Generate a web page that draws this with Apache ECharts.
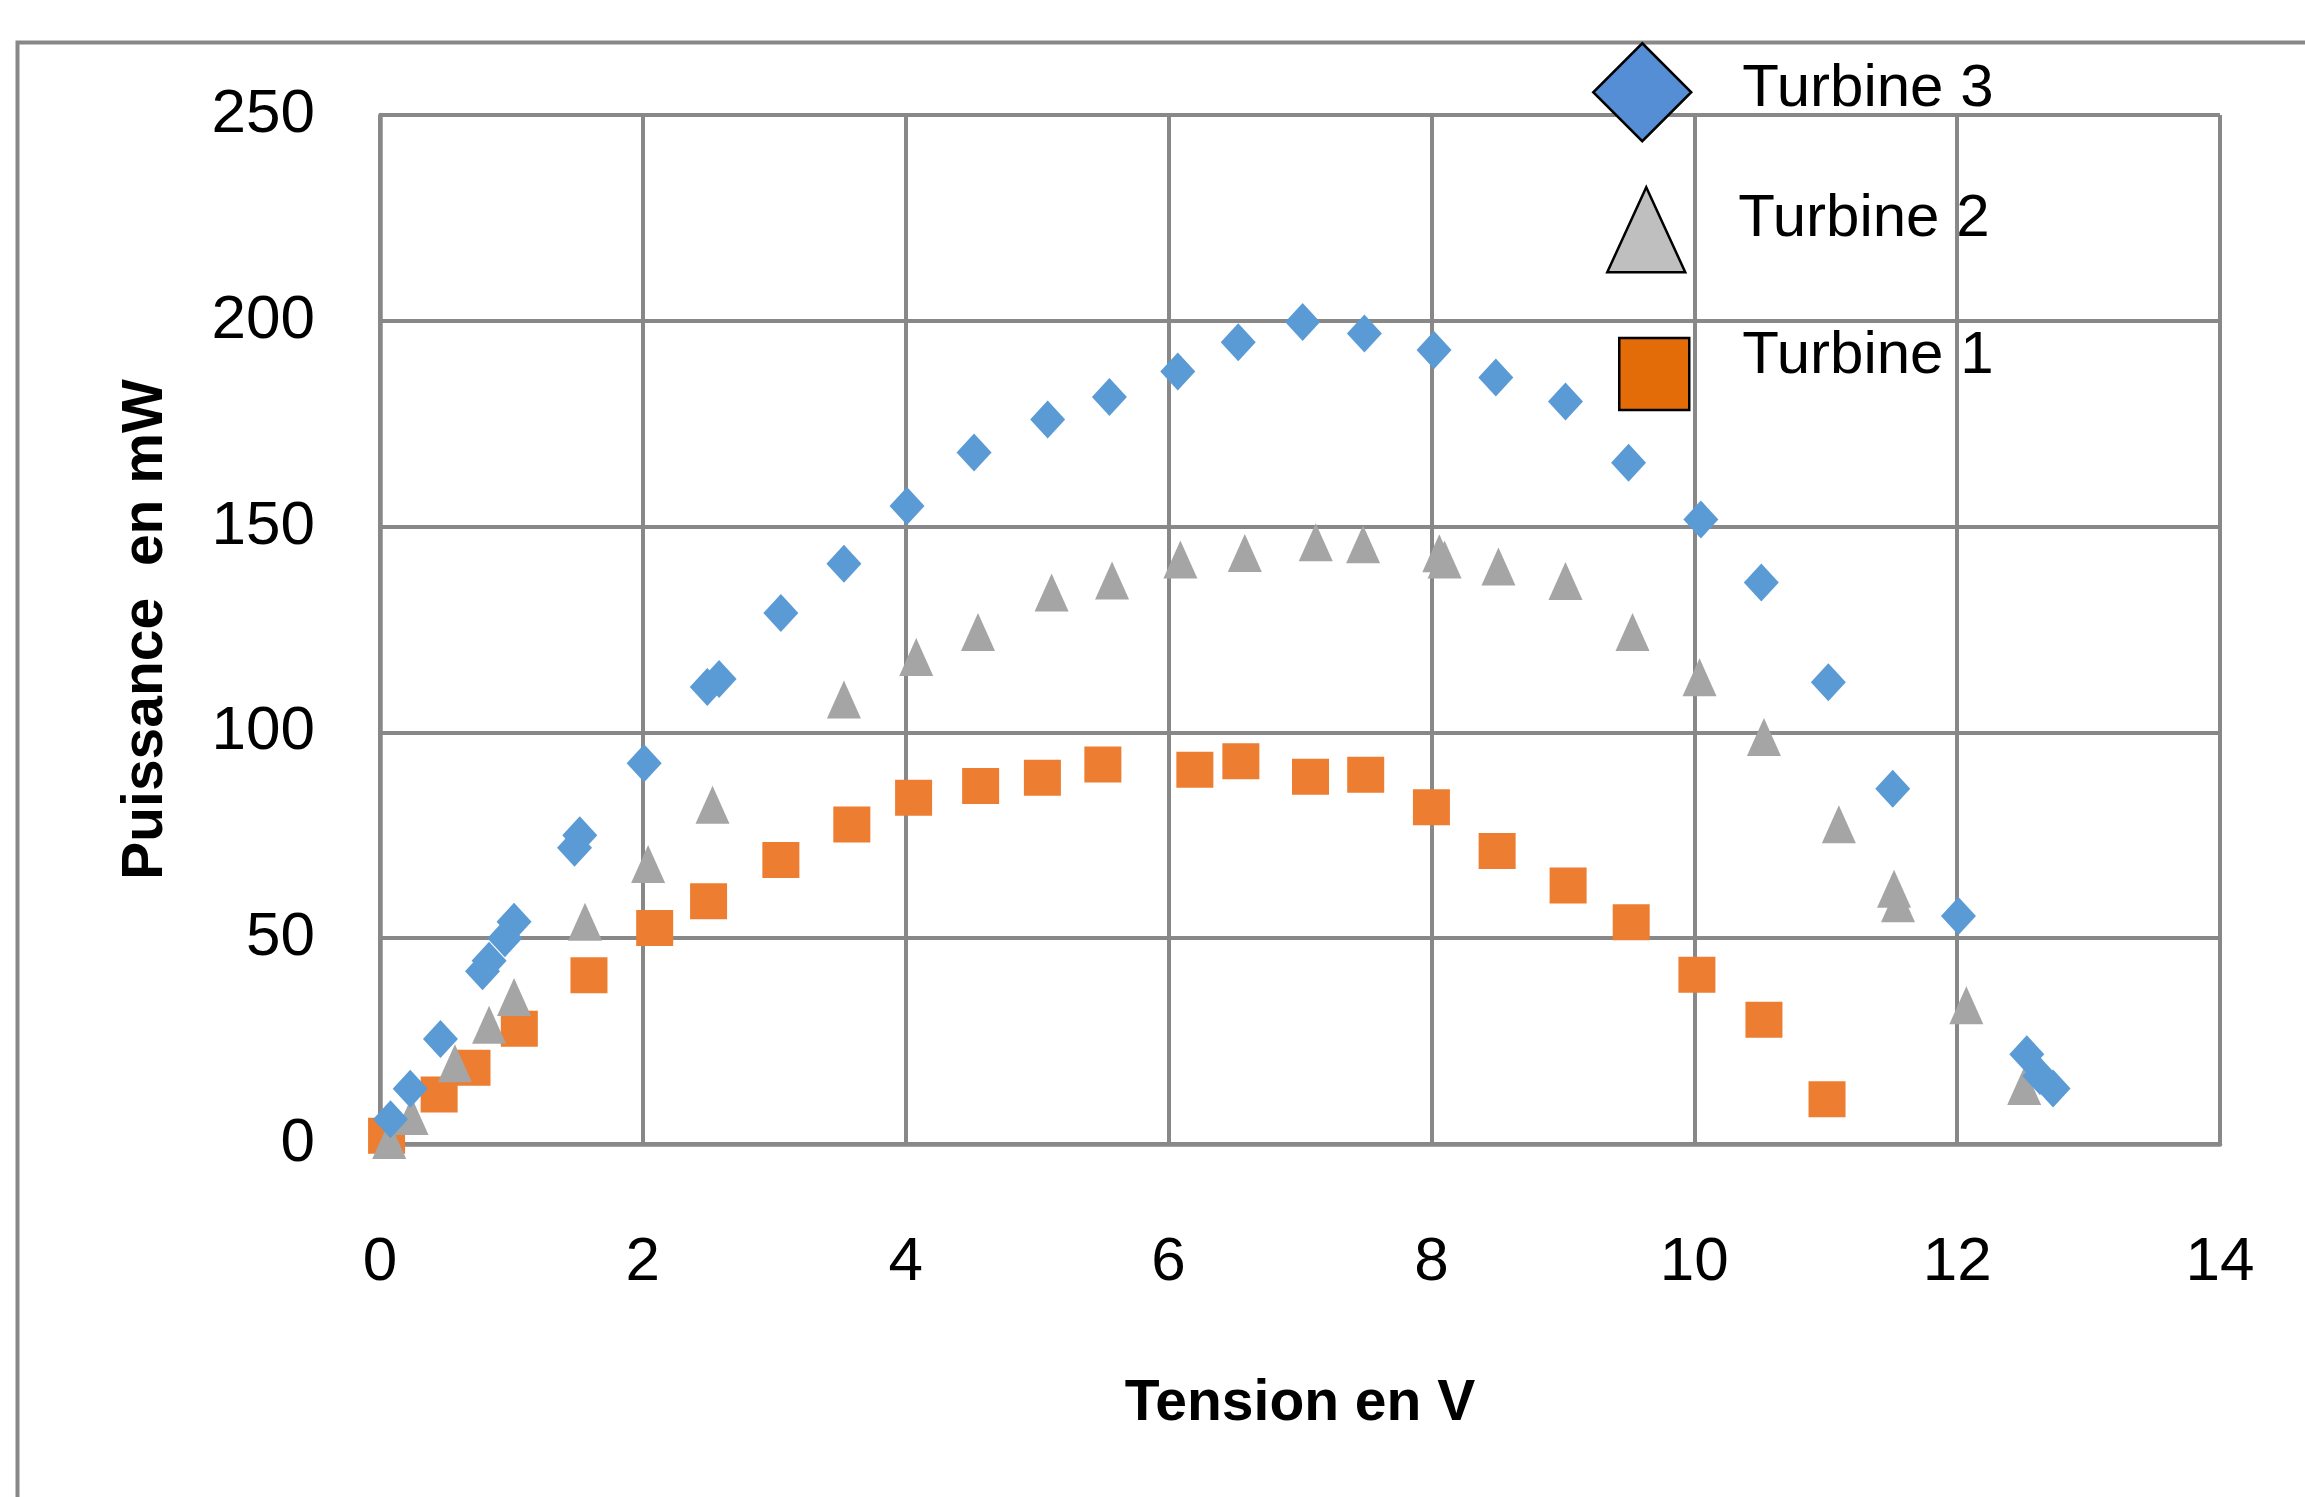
<!DOCTYPE html>
<html><head><meta charset="utf-8">
<script src="https://cdn.jsdelivr.net/npm/echarts@6/dist/echarts.min.js"></script>
<style>html,body{margin:0;padding:0;background:#fff}#c{width:2305px;height:1497px}</style>
</head><body><div id="c"></div>
<script>
// ---- data ----
const seriesNames = ['Turbine 1', 'Turbine 2', 'Turbine 3'];
const turbine1 = [[0.05,2],[0.45,12],[0.7,18.5],[1.06,28],[1.59,41],[2.09,52.5],[2.5,59],[3.05,69],[3.59,77.6],[4.06,84.1],[4.57,87],[5.04,89],[5.5,92.2],[6.2,90.9],[6.55,93],[7.08,89.2],[7.5,89.7],[8.0,81.8],[8.5,71.2],[9.04,62.8],[9.52,53.9],[10.02,41.1],[10.53,30.2],[11.01,10.9]];
const turbine2 = [[0.07,1],[0.24,6.8],[0.57,19.6],[0.83,29],[1.02,35.7],[1.56,54],[2.04,68],[2.53,82.4],[3.53,108],[4.08,118.3],[4.55,124.4],[5.11,134],[5.57,136.9],[6.09,142],[6.58,143.6],[7.12,146.2],[7.48,145.7],[8.06,143.5],[8.1,142],[8.51,140.3],[9.02,136.8],[9.53,124.4],[10.04,113.4],[10.53,98.9],[11.1,77.7],[11.52,62],[11.55,58.5],[12.07,33.7],[12.51,14.1]];
const turbine3 = [[0.08,6],[0.23,13.4],[0.46,25.5],[0.78,42],[0.83,44.5],[0.95,50],[1.02,54],[1.48,72],[1.52,75],[2.01,92.5],[2.49,111],[2.58,113],[3.05,129],[3.53,141],[4.01,155],[4.52,168],[5.08,176],[5.55,181.5],[6.07,187.7],[6.53,194.8],[7.02,199.7],[7.49,196.9],[8.02,192.9],[8.49,186.2],[9.02,180.4],[9.5,165.5],[10.05,151.7],[10.51,136.4],[11.02,112.2],[11.51,86.3],[12.01,55.4],[12.53,21.8],[12.63,16.5],[12.73,13.5]];
const xAxisTitle = 'Tension en V';
const yAxisTitle = 'Puissance  en mW';

// ---- styles ----
const GRID = '#888888';
const SANS = "'Liberation Sans Narrow', 'Liberation Sans', Arial, sans-serif";
const ARIAL = "'Liberation Sans', Arial, sans-serif";
const markerColors = ['#ED7D31', '#A5A5A5', '#5B9BD5'];
const markerSymbols = ['rect', 'triangle', 'diamond'];
const markerSizes = [[37,36], [34,38], [35,38]];

const chart = echarts.init(document.getElementById('c'), null, {renderer: 'canvas'});
const dataSets = [turbine1, turbine2, turbine3];

function legendFor(name, icon, color, left, top, w, h, padLeft, lift) {
  return {
    left: left, top: top, padding: 0, orient: 'vertical',
    itemWidth: w, itemHeight: h, selectedMode: false,
    data: [{name: name, icon: icon, itemStyle: {color: color, borderColor: '#000', borderWidth: 2.5}}],
    formatter: n => '{t|' + n + '}\n{s| }',
    textStyle: {
      fontFamily: ARIAL, fontSize: 60, color: '#000',
      rich: {
        t: {fontFamily: ARIAL, fontSize: 60, color: '#000', lineHeight: 64, padding: [0, 0, 0, padLeft]},
        s: {fontSize: 1, lineHeight: Math.max(1, 2 * lift)}
      }
    }
  };
}

chart.setOption({
  backgroundColor: '#fff',
  animation: false,
  graphic: [{
    type: 'rect', left: 15, top: 40, z: -10,
    shape: {x: 0, y: 0, width: 2400, height: 1600},
    style: {fill: 'none', stroke: GRID, lineWidth: 4}
  }],
  grid: {left: 380, right: 85, top: 115, bottom: 353, containLabel: false},
  legend: [
    legendFor('Turbine 3', 'diamond', '#558ED5', 1592, 42, 98, 98, 46, 3),
    legendFor('Turbine 2', 'triangle', '#BFBFBF', 1606, 186, 78, 85, 48, 10),
    legendFor('Turbine 1', 'rect', '#E36C09', 1618, 326, 70, 72, 48, 18)
  ],
  xAxis: {
    type: 'value', min: 0, max: 14, interval: 2,
    name: xAxisTitle, nameLocation: 'middle', nameGap: 232,
    nameTextStyle: {fontFamily: SANS, fontWeight: 'bold', fontSize: 57, color: '#000'},
    axisLine: {show: true, onZero: false, lineStyle: {color: GRID, width: 4.5}},
    axisTick: {show: false},
    axisLabel: {margin: 88, fontFamily: SANS, fontSize: 62, color: '#000'},
    splitLine: {show: true, lineStyle: {color: GRID, width: 4}}
  },
  yAxis: {
    type: 'value', min: 0, max: 250, interval: 50,
    name: yAxisTitle, nameLocation: 'middle', nameGap: 205,
    nameTextStyle: {fontFamily: SANS, fontWeight: 'bold', fontSize: 57, color: '#000'},
    axisLine: {show: true, lineStyle: {color: GRID, width: 4.5}},
    axisTick: {show: false},
    axisLabel: {margin: 65, fontFamily: SANS, fontSize: 62, color: '#000'},
    splitLine: {show: true, lineStyle: {color: GRID, width: 4}}
  },
  series: seriesNames.map((n, i) => ({
    name: n, type: 'scatter', data: dataSets[i],
    symbol: markerSymbols[i], symbolSize: markerSizes[i],
    itemStyle: {color: markerColors[i], opacity: 1},
    z: 2 + i
  }))
});
</script></body></html>
